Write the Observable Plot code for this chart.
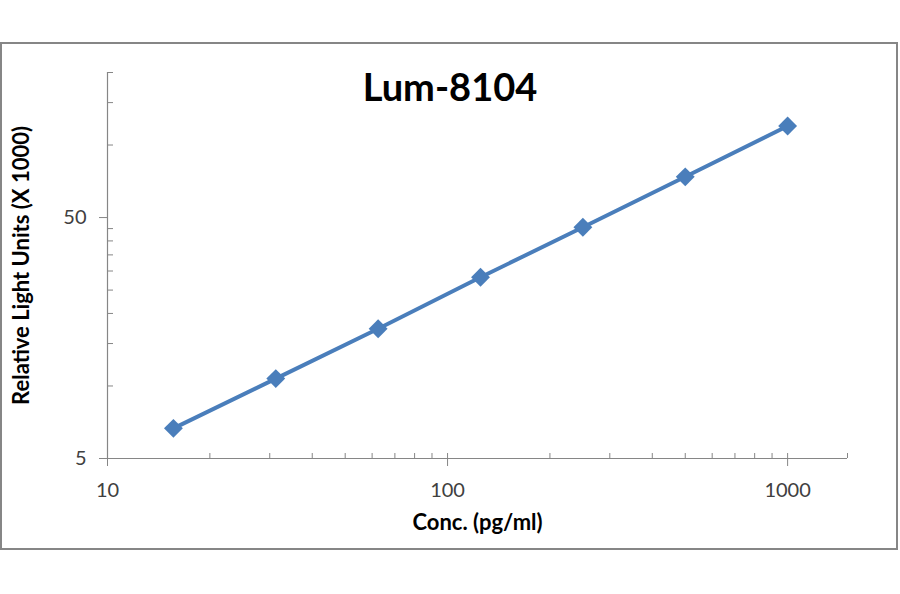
<!DOCTYPE html>
<html>
<head>
<meta charset="utf-8">
<script src="https://cdn.jsdelivr.net/npm/d3@7"></script>
<script src="https://cdn.jsdelivr.net/npm/@observablehq/plot@0.6"></script>
<style>
  body { margin: 0; background: #fff; }
  #wrap { position: relative; width: 900px; height: 594px; overflow: hidden; background: #fff; }
  #chart { position: absolute; left: 0; top: 0; }
  #frame { position: absolute; left: 0; top: 42px; width: 898px; height: 508px; box-sizing: border-box; border: 2px solid #868686; pointer-events: none; }
  #title { position: absolute; left: 0; width: 900px; top: 67px; text-align: center; font: bold 38px/38px Lato, sans-serif; color: #000; }
</style>
</head>
<body>
<div id="wrap">
  <div id="chart"></div>
  <div id="frame"></div>
  <div id="title">Lum-8104</div>
</div>
<script>
// Data
const conc = [15.625, 31.25, 62.5, 125, 250, 500, 1000];
const rlu = [6.67, 10.73, 17.27, 28.25, 45.6, 73.8, 120.0];

// Axis ticks
const xMajor = [10, 100, 1000];
const xMinor = [20, 30, 40, 50, 60, 70, 80, 90, 200, 300, 400, 500, 600, 700, 800, 900, 1500];
const yMajor = [5, 50];
const yMinor = [10, 15, 20, 25, 30, 35, 40, 45, 100, 150, 200];
const xDomain = [10, 1500];
const yDomain = [5, 200];

const xLabel = "Conc. (pg/ml)";
const yLabel = "Relative Light Units (X 1000)";

const W = 900, H = 594, mL = 107, mR = 53, mT = 72, mB = 136;
const innerH = H - mT - mB;
const innerW = W - mL - mR;
const axisColor = "#868686";
const lineColor = "#4a7ebb";

const data = conc.map((c, i) => ({conc: c, rlu: rlu[i]}));

const chart = Plot.plot({
  width: W,
  height: H,
  marginLeft: mL,
  marginRight: mR,
  marginTop: mT,
  marginBottom: mB,
  style: {fontFamily: "Lato, sans-serif", background: "transparent", overflow: "visible"},
  x: {type: "log", domain: xDomain},
  y: {type: "log", domain: yDomain},
  marks: [
    Plot.ruleY([yDomain[0]], {stroke: axisColor, strokeWidth: 1.2}),
    Plot.ruleX([xDomain[0]], {stroke: axisColor, strokeWidth: 1.2}),
    Plot.tickX(xMinor, {x: d => d, stroke: axisColor, insetTop: innerH - 5}),
    Plot.tickX(xMajor, {x: d => d, stroke: axisColor, insetTop: innerH - 5, insetBottom: -8}),
    Plot.tickY(yMinor, {y: d => d, stroke: axisColor, insetRight: innerW - 6}),
    Plot.tickY(yMajor, {y: d => d, stroke: axisColor, insetRight: innerW, insetLeft: -8}),
    Plot.axisX({ticks: xMajor, tickSize: 0, tickPadding: 24, tickFormat: d => String(d), fontSize: 20, fill: "#404040", label: null}),
    Plot.axisY({ticks: yMajor, tickSize: 0, tickPadding: 21, tickFormat: d => String(d), fontSize: 20, fill: "#404040", label: null}),
    Plot.axisX({ticks: [], tickSize: 0, label: xLabel, labelAnchor: "center", labelOffset: 71, labelArrow: "none", fontSize: 22, fontWeight: "bold", fill: "#000"}),
    Plot.axisY({ticks: [], tickSize: 0, label: yLabel, labelAnchor: "center", labelOffset: 94, labelArrow: "none", fontSize: 22, fontWeight: "bold", fill: "#000"}),
    Plot.line(data, {x: "conc", y: "rlu", stroke: lineColor, strokeWidth: 4}),
    Plot.dot(data, {x: "conc", y: "rlu", symbol: "diamond2", r: 8.5, fill: lineColor, stroke: null})
  ]
});
document.getElementById("chart").appendChild(chart);
</script>
</body>
</html>
